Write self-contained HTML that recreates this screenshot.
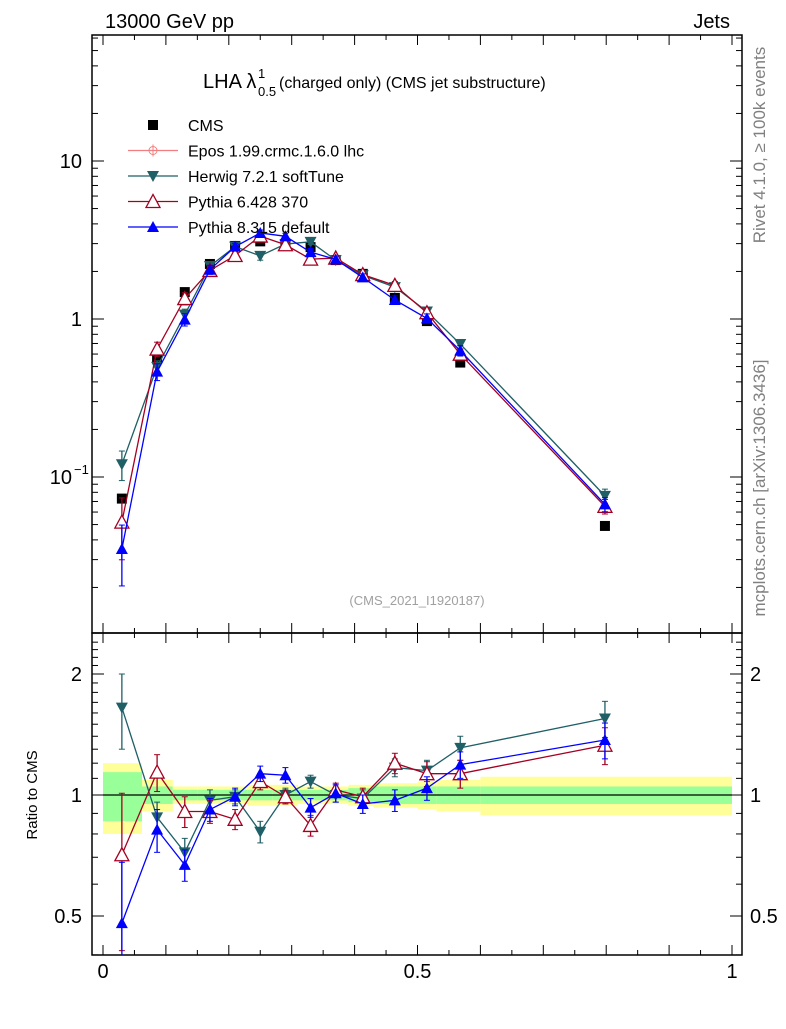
<!DOCTYPE html>
<html><head><meta charset="utf-8">
<style>
body{margin:0;background:#fff;width:786px;height:1024px;overflow:hidden;font-family:"Liberation Sans",sans-serif}
svg text{font-family:"Liberation Sans",sans-serif}
</style></head>
<body>
<svg id="c" width="786" height="1024"></svg>
<script>
const xc=[0.03,0.086,0.13,0.17,0.21,0.25,0.29,0.33,0.37,0.413,0.464,0.515,0.568,0.798];
const edges=[0,0.062,0.111,0.15,0.19,0.23,0.27,0.31,0.35,0.39,0.43,0.5,0.53,0.6,1.0];
const cms=[0.073,0.566,1.48,2.23,2.9,3.1,2.98,2.85,2.36,1.93,1.36,0.97,0.53,0.049];
const bandG=[0.14,0.05,0.03,0.03,0.03,0.03,0.03,0.03,0.03,0.04,0.05,0.05,0.05,0.05];
const bandY=[0.2,0.09,0.05,0.05,0.05,0.06,0.06,0.05,0.05,0.06,0.07,0.08,0.09,0.11];
const herR=[1.65,0.88,0.72,0.97,0.99,0.81,1.0,1.08,1.0,0.98,1.17,1.15,1.31,1.55];
const herE=[0.35,0.08,0.06,0.06,0.04,0.05,0.04,0.04,0.04,0.05,0.06,0.07,0.09,0.16];
const py6R=[0.71,1.14,0.91,0.91,0.87,1.08,0.99,0.84,1.03,0.99,1.2,1.13,1.13,1.33];
const py6E=[0.3,0.12,0.08,0.06,0.05,0.05,0.04,0.05,0.04,0.05,0.07,0.08,0.09,0.14];
const py8R=[0.48,0.82,0.67,0.92,0.99,1.13,1.12,0.93,1.01,0.95,0.97,1.04,1.19,1.37];
const py8E=[0.2,0.1,0.06,0.06,0.05,0.05,0.05,0.05,0.05,0.05,0.06,0.07,0.09,0.14];
const xTicks=["0","0.5","1"];
const ns="http://www.w3.org/2000/svg",svg=document.getElementById('c');
function el(t,a,p){const e=document.createElementNS(ns,t);for(const k in a)e.setAttribute(k,a[k]);(p||svg).appendChild(e);return e;}
function X(v){return 103+629*v;}
function Y(v){return 319-158*Math.log10(v);}
function R(v){return 795-121*Math.log2(v);}
const L=92,Rt=742,T=35,M=633,B=955;
for(let i=0;i<xc.length;i++){
 let r=el('rect',{x:X(edges[i]),y:R(1+bandY[i]),width:X(edges[i+1])-X(edges[i]),height:R(1-bandY[i])-R(1+bandY[i]),fill:'#ffff99'});
 
 let g=el('rect',{x:X(edges[i]),y:R(1+bandG[i]),width:X(edges[i+1])-X(edges[i]),height:R(1-bandG[i])-R(1+bandG[i]),fill:'#99ff99'});
 
}
el('line',{x1:X(0),x2:X(1),y1:R(1),y2:R(1),stroke:'#000','stroke-width':1.2});
el('rect',{x:L,y:T,width:Rt-L,height:M-T,fill:'none',stroke:'#000','stroke-width':1.5});
el('rect',{x:L,y:M,width:Rt-L,height:B-M,fill:'none',stroke:'#000','stroke-width':1.5});
for(let k=0;k<=20;k++){const v=k*0.05,x=X(v),len=k%2==0?10:5;
 [T,M].forEach(y=>el('line',{x1:x,x2:x,y1:y,y2:y+len,stroke:'#000'}));
 [M,B].forEach(y=>el('line',{x1:x,x2:x,y1:y,y2:y-len,stroke:'#000'}));}
xTicks.forEach(s=>{const t=el('text',{x:X(+s),y:978,'font-size':20,'text-anchor':'middle'});t.textContent=s;
 });
for(let d=-2;d<=1;d++)for(let m=1;m<10;m++){const v=m*Math.pow(10,d),y=Y(v);if(y<T||y>M)continue;const len=m==1?12:6;
 el('line',{x1:L,x2:L+len,y1:y,y2:y,stroke:'#000'});el('line',{x1:Rt,x2:Rt-len,y1:y,y2:y,stroke:'#000'});}
[[10,'10'],[1,'1']].forEach(([v,s])=>{const t=el('text',{x:82,y:Y(v)+7,'font-size':20,'text-anchor':'end'});t.textContent=s;});
{const t=el('text',{x:72,y:Y(0.1)+7,'font-size':20,'text-anchor':'end'});t.textContent='10';
 const s=el('text',{x:74,y:Y(0.1)-3,'font-size':13});s.textContent='−1';}
for(let v=0.4;v<=2.5;v+=0.1){const y=R(v);if(y<M||y>B)continue;const maj=Math.abs(v-0.5)<1e-6||Math.abs(v-1)<1e-6||Math.abs(v-2)<1e-6;const len=maj?12:6;
 el('line',{x1:L,x2:L+len,y1:y,y2:y,stroke:'#000'});el('line',{x1:Rt,x2:Rt-len,y1:y,y2:y,stroke:'#000'});}
[[2,'2'],[1,'1'],[0.5,'0.5']].forEach(([v,s])=>{let t=el('text',{x:82,y:R(v)+7,'font-size':20,'text-anchor':'end'});t.textContent=s;
 t=el('text',{x:750,y:R(v)+7,'font-size':20});t.textContent=s;});
function marker(x,y,type,col,g){
 if(type=='sq')el('rect',{x:x-5,y:y-5,width:10,height:10,fill:col},g);
 else if(type=='down')el('path',{d:`M${x-6},${y-5}L${x+6},${y-5}L${x},${y+6}Z`,fill:col},g);
 else if(type=='up')el('path',{d:`M${x-6},${y+5}L${x+6},${y+5}L${x},${y-6}Z`,fill:col},g);
 else if(type=='upo')el('path',{d:`M${x-7},${y+6}L${x+7},${y+6}L${x},${y-7}Z`,fill:'#fff',stroke:col,'stroke-width':1.3},g);
}
function series(name,ratio,err,col,type){
 const g=el('g',{});
 const main=ratio.map((r,i)=>r*cms[i]);
 el('polyline',{points:main.map((v,i)=>X(xc[i])+','+Y(v)).join(' '),fill:'none',stroke:col,'stroke-width':1.3},g);
 el('polyline',{points:ratio.map((v,i)=>X(xc[i])+','+R(v)).join(' '),fill:'none',stroke:col,'stroke-width':1.3},g);
 ratio.forEach((r,i)=>{const x=X(xc[i]);
  const lo=Math.max(r-err[i],0.3),hi=r+err[i];
  el('line',{x1:x,x2:x,y1:Math.min(R(lo),B),y2:R(hi),stroke:col,'stroke-width':1.3},g);
  el('line',{x1:x-3,x2:x+3,y1:R(hi),y2:R(hi),stroke:col},g);
  if(R(lo)<B)el('line',{x1:x-3,x2:x+3,y1:R(lo),y2:R(lo),stroke:col},g);
  const m=main[i];const ml=Math.max(m*(1-err[i]/r),0.011),mh=m*(1+err[i]/r);
  el('line',{x1:x,x2:x,y1:Y(ml),y2:Y(mh),stroke:col,'stroke-width':1.3},g);
  el('line',{x1:x-3,x2:x+3,y1:Y(mh),y2:Y(mh),stroke:col},g);el('line',{x1:x-3,x2:x+3,y1:Y(ml),y2:Y(ml),stroke:col},g);
  marker(x,Y(m),type,col,g);marker(x,R(r),type,col,g);});
}
{const g=el('g',{});
 cms.forEach((v,i)=>marker(X(xc[i]),Y(v),'sq','#000',g));}
series('herwig-series',herR,herE,'#1f5f66','down');
series('pythia6-series',py6R,py6E,'#a50021','upo');
series('pythia8-series',py8R,py8E,'#0000ff','up');
const leg=[['CMS','#000','sq'],['Epos 1.99.crmc.1.6.0 lhc','#f08080','epos'],['Herwig 7.2.1 softTune','#1f5f66','down'],['Pythia 6.428 370','#a50021','upo'],['Pythia 8.315 default','#0000ff','up']];
leg.forEach((l,i)=>{const y=125+25.5*i;const g=el('g',{});
 if(l[2]=='sq')marker(153,y,'sq','#000',g);else{el('line',{x1:128,x2:178,y1:y,y2:y,stroke:l[1],'stroke-width':1.3},g);
 if(l[2]=='epos'){el('circle',{cx:153,cy:y,r:4,fill:'none',stroke:l[1]},g);el('line',{x1:153,x2:153,y1:y-6,y2:y+6,stroke:l[1]},g);}
 else marker(153,y,l[2],l[1],g);}
 const t=el('text',{x:188,y:y+6,'font-size':16},g);t.textContent=l[0];});
function txt(x,y,s,size,extra,name){const t=el('text',Object.assign({x:x,y:y,'font-size':size},extra||{}));t.textContent=s;return t;}
txt(105,28,'13000 GeV pp',20,{},'header-left');
txt(730,28,'Jets',20,{'text-anchor':'end'},'header-right');
txt(203,88,'LHA λ',20,{},'plot-title');
txt(258,78,'1',13,{},'title-sup');txt(258,96,'0.5',13,{},'title-sub');
txt(279,88,'(charged only) (CMS jet substructure)',16,{},'plot-subtitle');
txt(417,605,'(CMS_2021_I1920187)',13,{'text-anchor':'middle',fill:'#a0a0a0'},'analysis-id');
txt(0,0,'Ratio to CMS',15,{transform:'translate(37,795) rotate(-90)','text-anchor':'middle'},'y-axis-title');
txt(0,0,'Rivet 4.1.0, ≥ 100k events',17,{transform:'translate(765,145) rotate(-90)','text-anchor':'middle',fill:'#808080'},'rivet-label');
txt(0,0,'mcplots.cern.ch [arXiv:1306.3436]',17,{transform:'translate(765,488) rotate(-90)','text-anchor':'middle',fill:'#808080'},'mcplots-label');
</script>
</body></html>
